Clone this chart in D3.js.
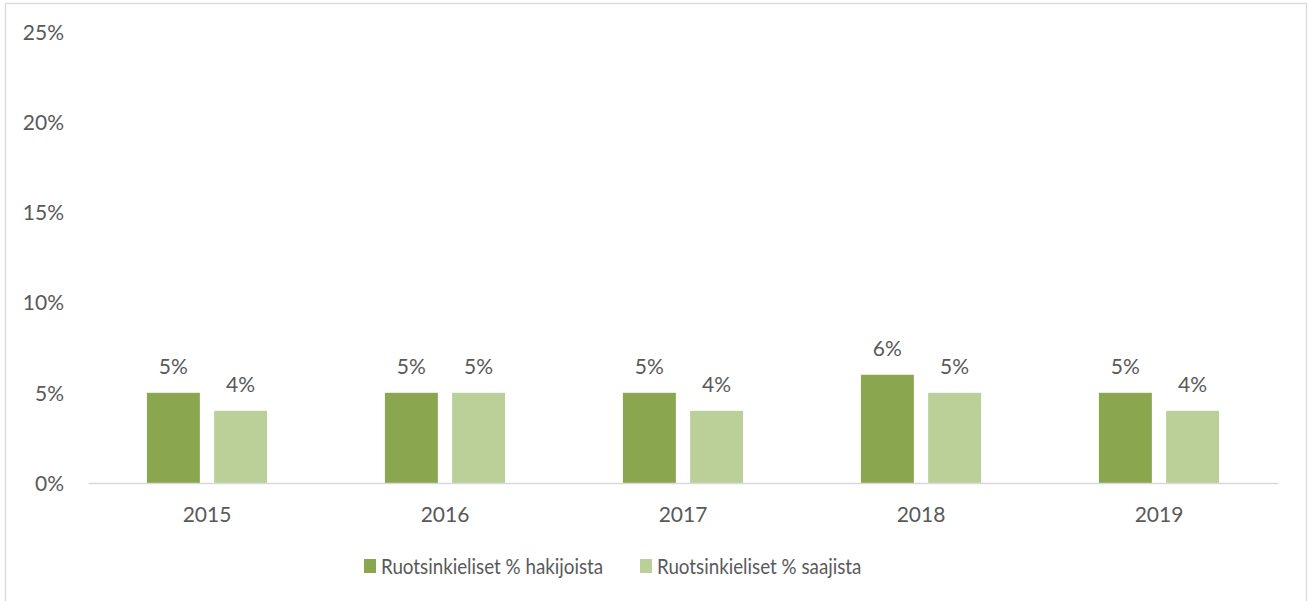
<!DOCTYPE html>
<html>
<head>
<meta charset="utf-8">
<script src="https://cdn.jsdelivr.net/npm/d3@7"></script>
<style>
  html, body { margin: 0; padding: 0; background: #fff; }
  svg { display: block; }
  text { font-family: Lato, "Open Sans", sans-serif; fill: #595959; }
</style>
</head>
<body>
<svg id="chart" width="1308" height="601"></svg>
<script>
// Swedish-speaking share of applicants and recipients, by year
const years = ["2015", "2016", "2017", "2018", "2019"];
const seriesNames = ["Ruotsinkieliset % hakijoista", "Ruotsinkieliset % saajista"];
const applicants = [0.05, 0.05, 0.05, 0.06, 0.05];
const recipients = [0.04, 0.05, 0.04, 0.05, 0.04];
const yTicks = [0, 0.05, 0.10, 0.15, 0.20, 0.25];
const colors = ["#8aa64f", "#bbcf98"];

const svg = d3.select("#chart");
const plot = { left: 88, right: 1278, top: 32, bottom: 483 };
const fontSize = 21;

// outer frame (bottom edge runs off the page)
svg.append("rect")
  .attr("x", 5.5).attr("y", 3.5)
  .attr("width", 1301).attr("height", 640)
  .attr("fill", "#fff").attr("stroke", "#d9d9d9").attr("stroke-width", 1.3);

const x = d3.scaleBand().domain(years).range([plot.left, plot.right]);
const y = d3.scaleLinear().domain([0, 0.25]).range([plot.bottom, plot.top]);

// bars inside each year band: two bars with a small gap
const barW = x.bandwidth() * 0.2225;
const gap = x.bandwidth() * 0.06;
const xs = d3.scaleBand().domain([0, 1]).range([0, 2 * barW + gap]).paddingInner(gap / (barW + gap));

const rows = years.map((yr, i) => ({ year: yr, vals: [applicants[i], recipients[i]] }));
const pct = d3.format(".0%");

const groups = svg.append("g").selectAll("g").data(rows).join("g")
  .attr("transform", d => `translate(${x(d.year) + (x.bandwidth() - (2 * barW + gap)) / 2},0)`);

groups.selectAll("rect").data(d => d.vals).join("rect")
  .attr("x", (v, j) => xs(j))
  .attr("width", xs.bandwidth())
  .attr("y", v => y(v))
  .attr("height", v => y(0) - y(v))
  .attr("fill", (v, j) => colors[j]);

groups.selectAll("text").data(d => d.vals).join("text")
  .attr("x", (v, j) => xs(j) + xs.bandwidth() / 2)
  .attr("y", v => y(v) - 19)
  .attr("text-anchor", "middle")
  .attr("font-size", fontSize)
  .text(v => pct(v));

// y axis: labels only, no line
const yAxis = d3.axisLeft(y).tickValues(yTicks).tickFormat(pct).tickSize(0).tickPadding(0);
const gy = svg.append("g").attr("transform", `translate(64,0)`).call(yAxis);
gy.select(".domain").remove();
gy.selectAll("text").attr("font-size", fontSize).attr("font-family", null).attr("dy", "0.35em").style("fill", "#595959");

// x axis: baseline and year labels
const xAxis = d3.axisBottom(x).tickSize(0).tickPadding(0);
const gx = svg.append("g").attr("transform", `translate(0,${plot.bottom})`).call(xAxis);
gx.select(".domain").attr("stroke", "#d9d9d9").attr("stroke-width", 1.5);
gx.selectAll("text").attr("font-size", fontSize).attr("font-family", null).attr("y", 38.5).attr("dy", 0).style("fill", "#595959");

// legend (labels set slightly condensed)
const legendItems = [{ name: seriesNames[0], color: colors[0], x: 364 }, { name: seriesNames[1], color: colors[1], x: 640 }];
const lg = svg.append("g").selectAll("g").data(legendItems).join("g")
  .attr("transform", d => `translate(${d.x},559)`);
lg.append("rect").attr("width", 12).attr("height", 14).attr("fill", d => d.color);
lg.append("text")
  .attr("transform", "translate(17,15) scale(0.895,1)")
  .attr("font-size", fontSize)
  .text(d => d.name);
</script>
</body>
</html>
